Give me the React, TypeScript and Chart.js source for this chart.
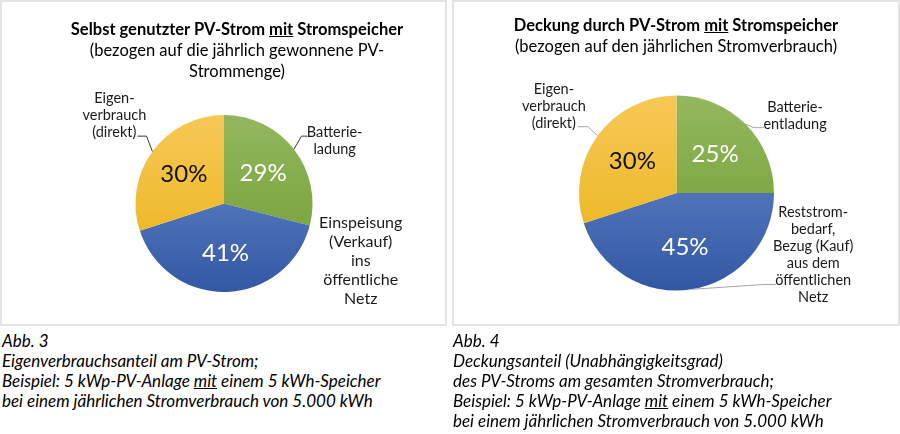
import React, { useEffect, useRef } from "react";
import { Chart, registerables } from "chart.js";

Chart.register(...registerables);

// ---------- data ----------
const leftCategories = ["Batterieladung", "Einspeisung", "Eigenverbrauch (direkt)"];
const leftValues = [29, 41, 30];
const leftLabelLines = [
  ["Batterie-", "ladung"],
  ["Einspeisung", "(Verkauf)", "ins", "öffentliche", "Netz"],
  ["Eigen-", "verbrauch", "(direkt)"],
];

const rightCategories = ["Batterieentladung", "Reststrombedarf", "Eigenverbrauch (direkt)"];
const rightValues = [25, 45, 30];
const rightLabelLines = [
  ["Batterie-", "entladung"],
  ["Reststrom-", "bedarf,", "Bezug (Kauf)", "aus dem", "öffentlichen", "Netz"],
  ["Eigen-", "verbrauch", "(direkt)"],
];

// ---------- styles ----------
const FONT = "Lato, 'Open Sans', sans-serif";
const GREEN = ["#93b75f", "#6d9c2c"];
const BLUE = ["#6e8fcc", "#3258a4"];
const YELLOW = ["#f7c857", "#e8b212"];
const SLICE_GRADIENTS = [GREEN, BLUE, YELLOW];
const PCT_COLORS = ["#ffffff", "#ffffff", "#111111"];

type Placement = { tx: number; ty: number; ax?: number; ay?: number; elbow?: number; size: number; lh: number };

const leftPlacement: Placement[] = [
  { tx: 1.25, ty: -0.71, ax: 0.943, ay: -0.761, elbow: -6, size: 14.5, lh: 17 },
  { tx: 1.545, ty: 0.648, size: 16, lh: 19 },
  { tx: -1.239, ty: -1.0, ax: -0.977, ay: -0.761, elbow: 9, size: 14.5, lh: 17 },
];
const rightPlacement: Placement[] = [
  { tx: 1.216, ty: -0.789, ax: 0.897, ay: -0.67, elbow: -10, size: 14.5, lh: 17 },
  { tx: 1.402, ty: 0.634, ax: 1.021, ay: 0.938, elbow: -12, size: 14.5, lh: 17 },
  { tx: -1.258, ty: -0.887, ax: -1.01, ay: -0.68, elbow: 10, size: 14.5, lh: 17 },
];

const pieLabels = {
  id: "pieLabels",
  afterDatasetsDraw(chart: any, _a: any, opts: any) {
    const meta = chart.getDatasetMeta(0);
    const ctx = chart.ctx as CanvasRenderingContext2D;
    const values = chart.data.datasets[0].data as number[];
    ctx.save();
    meta.data.forEach((arc: any, i: number) => {
      const { x, y, startAngle, endAngle, outerRadius } = arc.getProps(
        ["x", "y", "startAngle", "endAngle", "outerRadius"],
        true
      );
      const mid = (startAngle + endAngle) / 2;
      const r = outerRadius;
      // percentage label
      ctx.font = `24px ${FONT}`;
      ctx.textAlign = "center";
      ctx.textBaseline = "middle";
      ctx.fillStyle = PCT_COLORS[i];
      ctx.fillText(`${values[i]}%`, x + Math.cos(mid) * r * opts.ratio, y + Math.sin(mid) * r * opts.ratio);

      // category label
      const p: Placement = opts.placements[i];
      const lines: string[] = opts.lines[i];
      ctx.font = `${p.size}px ${FONT}`;
      ctx.fillStyle = "#1a1a1a";
      const tx = x + p.tx * r;
      const ty = y + p.ty * r;
      lines.forEach((ln, k) => {
        ctx.fillText(ln, tx, ty + (k - (lines.length - 1) / 2) * p.lh);
      });
      if (p.ax !== undefined && p.ay !== undefined) {
        const ex = x + Math.cos(mid) * r;
        const ey = y + Math.sin(mid) * r;
        const ax = x + p.ax * r;
        const ay = y + p.ay * r;
        ctx.strokeStyle = opts.leaderColor;
        ctx.lineWidth = 1;
        ctx.beginPath();
        ctx.moveTo(ex, ey);
        ctx.lineTo(ax + (p.elbow || 0), ay);
        ctx.lineTo(ax, ay);
        ctx.stroke();
      }
    });
    ctx.restore();
  },
};

function PieBox(props: {
  left: number;
  width: number;
  height: number;
  cx: number;
  cy: number;
  r: number;
  categories: string[];
  values: number[];
  lines: string[][];
  placements: Placement[];
  leaderColor: string;
  title: React.ReactNode;
  titleTop: number;
  titleCenter: number;
}) {
  const ref = useRef<HTMLCanvasElement | null>(null);
  useEffect(() => {
    if (!ref.current) return;
    const { width, height, cx, cy, r } = props;
    const chart = new Chart(ref.current, {
      type: "pie",
      data: {
        labels: props.categories,
        datasets: [
          {
            data: props.values,
            backgroundColor: (c: any) => {
              const ch = c.chart;
              const area = ch.chartArea;
              const g = SLICE_GRADIENTS[c.dataIndex % 3];
              if (!area) return g[0];
              const grad = ch.ctx.createLinearGradient(0, area.top, 0, area.bottom);
              grad.addColorStop(0, g[0]);
              grad.addColorStop(1, g[1]);
              return grad;
            },
            borderWidth: 0,
            hoverBorderWidth: 0,
            hoverOffset: 0,
            offset: 0,
          } as any,
        ],
      },
      options: {
        responsive: false,
        animation: false,
        devicePixelRatio: 1,
        layout: {
          padding: {
            left: cx - r,
            top: cy - r,
            right: width - (cx + r),
            bottom: height - (cy + r),
          },
        },
        plugins: {
          legend: { display: false },
          tooltip: { enabled: false },
          title: { display: false },
          pieLabels: {
            ratio: 0.56,
            placements: props.placements,
            lines: props.lines,
            leaderColor: props.leaderColor,
          },
        } as any,
      },
      plugins: [pieLabels],
    });
    return () => chart.destroy();
  }, []);

  return (
    <div
      style={{
        position: "absolute",
        left: props.left,
        top: 0,
        width: props.width,
        height: props.height,
        background: "#fff",
      }}
    >
      <div
        style={{
          position: "absolute",
          inset: 0,
          border: "2px solid #e4e4e4",
          boxSizing: "border-box",
        }}
      />
      <canvas
        ref={ref}
        width={props.width}
        height={props.height}
        style={{ position: "absolute", left: 0, top: 0, width: props.width, height: props.height }}
      />
      <div
        style={{
          position: "absolute",
          left: props.titleCenter - 220,
          width: 440,
          top: props.titleTop,
          textAlign: "center",
          fontFamily: FONT,
          fontSize: 16.5,
          lineHeight: "21px",
          color: "#000",
          whiteSpace: "nowrap",
        }}
      >
        {props.title}
      </div>
    </div>
  );
}

export default function App() {
  const captionStyle: React.CSSProperties = {
    position: "absolute",
    top: 331,
    fontFamily: FONT,
    fontStyle: "italic",
    fontSize: 17,
    lineHeight: "20px",
    color: "#000",
    whiteSpace: "nowrap",
  };
  return (
    <div style={{ position: "absolute", left: 0, top: 0, width: 900, height: 434, background: "#fff", overflow: "hidden" }}>
      <PieBox
        left={0}
        width={447}
        height={326}
        cx={224}
        cy={203.5}
        r={88.5}
        categories={leftCategories}
        values={leftValues}
        lines={leftLabelLines}
        placements={leftPlacement}
        leaderColor="#3a3a3a"
        titleTop={18.5}
        titleCenter={237}
        title={
          <>
            <b>
              Selbst genutzter PV-Strom <u>mit</u> Stromspeicher
            </b>
            <br />
            (bezogen auf die jährlich gewonnene PV-
            <br />
            Strommenge)
          </>
        }
      />
      <PieBox
        left={452}
        width={448}
        height={326}
        cx={224.5}
        cy={193}
        r={97.5}
        categories={rightCategories}
        values={rightValues}
        lines={rightLabelLines}
        placements={rightPlacement}
        leaderColor="#a6a6a6"
        titleTop={14.5}
        titleCenter={224}
        title={
          <>
            <b>
              Deckung durch PV-Strom <u>mit</u> Stromspeicher
            </b>
            <br />
            (bezogen auf den jährlichen Stromverbrauch)
          </>
        }
      />
      <div style={{ ...captionStyle, left: 2 }}>
        Abb. 3
        <br />
        Eigenverbrauchsanteil am PV-Strom;
        <br />
        Beispiel: 5 kWp-PV-Anlage <u>mit</u> einem 5 kWh-Speicher
        <br />
        bei einem jährlichen Stromverbrauch von 5.000 kWh
      </div>
      <div style={{ ...captionStyle, left: 453 }}>
        Abb. 4
        <br />
        Deckungsanteil (Unabhängigkeitsgrad)
        <br />
        des PV-Stroms am gesamten Stromverbrauch;
        <br />
        Beispiel: 5 kWp-PV-Anlage <u>mit</u> einem 5 kWh-Speicher
        <br />
        bei einem jährlichen Stromverbrauch von 5.000 kWh
      </div>
    </div>
  );
}
